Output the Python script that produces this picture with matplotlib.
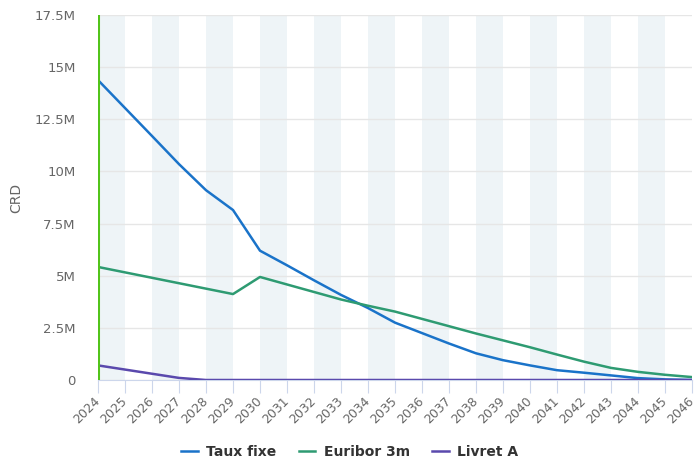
import matplotlib
matplotlib.use("Agg")
import matplotlib.pyplot as plt
from matplotlib.ticker import FuncFormatter, MultipleLocator

years = list(range(2024, 2047))
taux_fixe = [14.38, 13.04, 11.7, 10.35, 9.1, 8.15, 6.2, 5.5, 4.78, 4.08, 3.45, 2.75,
             2.25, 1.75, 1.28, 0.95, 0.7, 0.47, 0.35, 0.22, 0.09, 0.03, 0.0]
euribor = [5.42, 5.16, 4.9, 4.64, 4.38, 4.12, 4.94, 4.58, 4.22, 3.86, 3.56, 3.28,
           2.93, 2.58, 2.23, 1.9, 1.57, 1.22, 0.88, 0.58, 0.39, 0.25, 0.14]
livret_a = [0.7, 0.5, 0.3, 0.1, 0.0, 0.0, 0.0, 0.0, 0.0, 0.0, 0.0, 0.0,
            0.0, 0.0, 0.0, 0.0, 0.0, 0.0, 0.0, 0.0, 0.0, 0.0, 0.0]
series_names = ["Taux fixe", "Euribor 3m", "Livret A"]
colors = ["#1a73c9", "#2e9b72", "#5a49ad"]

fig = plt.figure(figsize=(6.99, 4.59), dpi=100)
ax = fig.add_axes([98/699, 79/459, 594/699, 365/459])

# plot bands on even years
for y0 in years[::2]:
    ax.axvspan(y0, y0 + 1, color="#eef4f7", lw=0, zorder=0)

for vals, name, c in zip([taux_fixe, euribor, livret_a], series_names, colors):
    ax.plot(years, [v * 1e6 for v in vals], color=c, lw=1.8, label=name, zorder=3)

ax.axvline(2024, color="#52c41a", lw=2.2, zorder=4)

ax.set_xlim(2024, 2046)
ax.set_ylim(0, 17.5e6)
ax.yaxis.set_major_locator(MultipleLocator(2.5e6))

def fmt(v, p):
    if v == 0:
        return "0"
    m = v / 1e6
    return ("%g" % m) + "M"
ax.yaxis.set_major_formatter(FuncFormatter(fmt))
ax.set_xticks(years)
ax.set_xticklabels([str(y) for y in years], rotation=45, ha="right", va="center",
                   rotation_mode="anchor", fontsize=9, color="#666666")
ax.tick_params(axis="y", length=0, labelsize=9.5, labelcolor="#666666", pad=16)
ax.tick_params(axis="x", length=9, color="#ccd6eb", pad=5)
ax.grid(axis="y", color="#e6e6e6", lw=1, zorder=1)
for s in ["top", "right", "left"]:
    ax.spines[s].set_visible(False)
ax.spines["bottom"].set_color("#ccd6eb")
ax.set_ylabel("CRD", color="#666666", fontsize=10)
ax.yaxis.set_label_coords(-0.126, 0.5)

leg = fig.legend(loc="center", bbox_to_anchor=(0.5, 1 - 452/459), ncol=3, frameon=False,
                 prop={"weight": "bold", "size": 10}, handlelength=1.2,
                 handletextpad=0.6, columnspacing=1.6)
for t in leg.get_texts():
    t.set_color("#333333")

fig.savefig("out.png", dpi=100)
